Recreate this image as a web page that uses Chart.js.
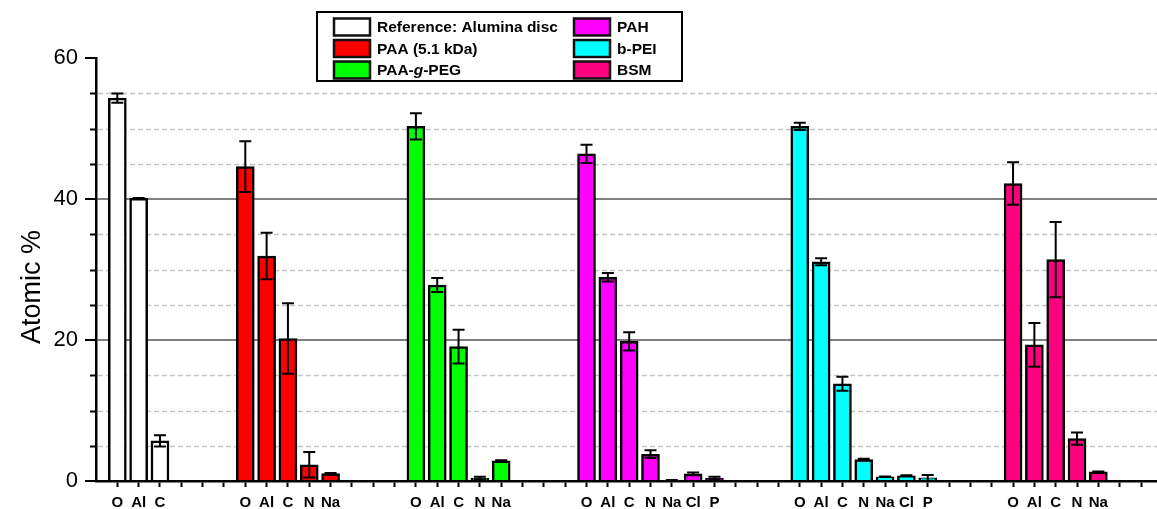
<!DOCTYPE html>
<html>
<head>
<meta charset="utf-8">
<script src="https://cdn.jsdelivr.net/npm/chart.js@4.4.0/dist/chart.umd.min.js"></script>
<style>
  html, body { margin: 0; padding: 0; background: #fff; overflow: hidden; }
  #wrap { position: relative; width: 1157px; height: 509px; }
</style>
</head>
<body>
<div id="wrap"><canvas id="chart"></canvas></div>
<script>
// Gruppen (Beschichtungen) und Farben
const groupNames = ['Reference: Alumina disc', 'PAA (5.1 kDa)', 'PAA-g-PEG', 'PAH', 'b-PEI', 'BSM'];
const groupColors = ['#ffffff', '#ff0000', '#00ff00', '#ff00ff', '#00ffff', '#ff0080'];

// Elemente, Werte (Atomic %) und Fehler je Gruppe
const refElements = ['O', 'Al', 'C'];
const refValues = [54.3, 40.1, 5.7];
const refErrors = [0.65, 0.05, 0.8];

const paaElements = ['O', 'Al', 'C', 'N', 'Na'];
const paaValues = [44.6, 31.9, 20.2, 2.3, 1.05];
const paaErrors = [3.6, 3.3, 5.0, 1.8, 0.1];

const pegElements = ['O', 'Al', 'C', 'N', 'Na'];
const pegValues = [50.3, 27.8, 19.05, 0.4, 2.85];
const pegErrors = [1.85, 1.0, 2.4, 0.2, 0.1];

const pahElements = ['O', 'Al', 'C', 'N', 'Na', 'Cl', 'P'];
const pahValues = [46.4, 28.9, 19.8, 3.8, 0.12, 1.0, 0.4];
const pahErrors = [1.3, 0.6, 1.3, 0.55, 0.03, 0.2, 0.2];

const peiElements = ['O', 'Al', 'C', 'N', 'Na', 'Cl', 'P'];
const peiValues = [50.3, 31.1, 13.8, 3.05, 0.6, 0.75, 0.45];
const peiErrors = [0.5, 0.5, 1.0, 0.1, 0.05, 0.05, 0.4];

const bsmElements = ['O', 'Al', 'C', 'N', 'Na'];
const bsmValues = [42.2, 19.3, 31.4, 6.0, 1.3];
const bsmErrors = [3.0, 3.1, 5.35, 0.87, 0.05];

const yTickValues = [0, 20, 40, 60];

const groups = [
  { elements: refElements, values: refValues, errors: refErrors },
  { elements: paaElements, values: paaValues, errors: paaErrors },
  { elements: pegElements, values: pegValues, errors: pegErrors },
  { elements: pahElements, values: pahValues, errors: pahErrors },
  { elements: peiElements, values: peiValues, errors: peiErrors },
  { elements: bsmElements, values: bsmValues, errors: bsmErrors }
];

const FONT = '"Liberation Sans", Arial, Helvetica, sans-serif';
const gap = 3;      // leere Slots zwischen Gruppen
const slotCount = 50;

// Slot-Beschriftungen + Datasets aufbauen
const slotLabels = new Array(slotCount).fill('');
let slot = 1;
const datasets = groups.map((g, i) => {
  const data = g.values.map((v, j) => ({ x: slot + j, y: v }));
  g.elements.forEach((e, j) => { slotLabels[slot + j] = e; });
  slot += g.values.length + gap;
  return {
    label: groupNames[i],
    data: data,
    errors: g.errors,
    backgroundColor: groupColors[i],
    borderColor: '#000',
    borderWidth: 2.5,
    barThickness: 18,
    grouped: false
  };
});

// gestrichelte Nebengitterlinien + kleine Ticks
const minorGrid = {
  id: 'minorGrid',
  beforeDatasetsDraw(chart) {
    const { ctx, chartArea: a, scales: { y } } = chart;
    ctx.save();
    for (let v = 5; v < 60; v += 5) {
      if (v % 20 === 0) continue;
      const py = Math.round(y.getPixelForValue(v)) + 0.5;
      ctx.strokeStyle = '#c4c4c4';
      ctx.lineWidth = 1.5;
      ctx.setLineDash([5, 3]);
      ctx.beginPath();
      ctx.moveTo(a.left + 2, py);
      ctx.lineTo(a.right, py);
      ctx.stroke();
      ctx.setLineDash([]);
      ctx.strokeStyle = '#000';
      ctx.lineWidth = 2;
      ctx.beginPath();
      ctx.moveTo(a.left - 6, py);
      ctx.lineTo(a.left, py);
      ctx.stroke();
    }
    ctx.restore();
  }
};

// Fehlerbalken
const errorBars = {
  id: 'errorBars',
  afterDatasetsDraw(chart) {
    const { ctx, scales: { x, y } } = chart;
    ctx.save();
    ctx.strokeStyle = '#000';
    ctx.lineWidth = 2;
    chart.data.datasets.forEach(ds => {
      ds.data.forEach((p, i) => {
        const e = ds.errors[i];
        if (!e) return;
        const px = x.getPixelForValue(p.x);
        const top = y.getPixelForValue(p.y + e);
        const bot = y.getPixelForValue(Math.max(0, p.y - e));
        ctx.beginPath();
        ctx.moveTo(px, top); ctx.lineTo(px, bot);
        ctx.moveTo(px - 6, top); ctx.lineTo(px + 6, top);
        ctx.moveTo(px - 6, bot); ctx.lineTo(px + 6, bot);
        ctx.stroke();
      });
    });
    ctx.restore();
  }
};

// Achsentitel + Legende
const decorations = {
  id: 'decorations',
  afterDraw(chart) {
    const ctx = chart.ctx;
    ctx.save();
    // Y-Titel
    ctx.translate(33, 287);
    ctx.rotate(-Math.PI / 2);
    ctx.fillStyle = '#000';
    ctx.font = '27px ' + FONT;
    ctx.textAlign = 'center';
    ctx.textBaseline = 'middle';
    ctx.fillText('Atomic %', 0, 0);
    ctx.restore();

    // Legende
    ctx.save();
    ctx.strokeStyle = '#000';
    ctx.lineWidth = 2;
    ctx.strokeRect(317, 12, 365, 69);
    const colX = [334, 574];
    chart.data.datasets.forEach((ds, i) => {
      const col = Math.floor(i / 3), row = i % 3;
      const sx = colX[col], cy = 27 + row * 21.5;
      ctx.fillStyle = ds.backgroundColor;
      ctx.fillRect(sx, cy - 8.5, 36, 17);
      ctx.strokeStyle = '#111';
      ctx.lineWidth = 2.5;
      ctx.strokeRect(sx, cy - 8.5, 36, 17);
      ctx.fillStyle = '#000';
      ctx.textAlign = 'left';
      ctx.textBaseline = 'middle';
      let tx = sx + 43;
      const parts = ds.label.includes('-g-')
        ? [[ds.label.split('-g-')[0] + '-', false], ['g', true], ['-' + ds.label.split('-g-')[1], false]]
        : [[ds.label, false]];
      parts.forEach(([t, it]) => {
        ctx.font = (it ? 'italic ' : '') + 'bold 15.5px ' + FONT;
        ctx.fillText(t, tx, cy + 1);
        tx += ctx.measureText(t).width;
      });
    });
    ctx.restore();
  }
};

new Chart(document.getElementById('chart'), {
  type: 'bar',
  data: { datasets: datasets },
  options: {
    responsive: true,
    maintainAspectRatio: false,
    animation: false,
    layout: { padding: { top: 58, left: 0, right: 0, bottom: 0 } },
    plugins: { legend: { display: false }, tooltip: { enabled: false } },
    scales: {
      x: {
        type: 'linear',
        min: 0,
        max: slotCount - 0.25,
        offset: false,
        z: 1,
        afterBuildTicks: s => {
          s.ticks = [];
          for (let i = 1; i < slotCount; i++) s.ticks.push({ value: i });
        },
        afterFit: s => { s.height = 28; },
        ticks: {
          autoSkip: false,
          maxRotation: 0,
          padding: 7,
          color: '#000',
          font: { family: FONT, size: 15, weight: 'bold' },
          callback: v => slotLabels[v] || ''
        },
        grid: { drawOnChartArea: false, offset: false, tickLength: 6, tickColor: '#000', tickWidth: 2 },
        border: { color: '#000', width: 2.5 }
      },
      y: {
        min: 0,
        max: 60,
        afterBuildTicks: s => { s.ticks = yTickValues.map(v => ({ value: v })); },
        afterFit: s => { s.width = 96; },
        ticks: {
          padding: 7,
          color: '#000',
          font: { family: FONT, size: 22 }
        },
        grid: {
          color: c => (c.tick && (c.tick.value === 20 || c.tick.value === 40)) ? '#808080' : 'rgba(0,0,0,0)',
          lineWidth: 2,
          tickColor: '#000',
          tickLength: 11,
          tickWidth: 2
        },
        border: { color: '#000', width: 2.5 }
      }
    }
  },
  plugins: [minorGrid, errorBars, decorations]
});
</script>
</body>
</html>
